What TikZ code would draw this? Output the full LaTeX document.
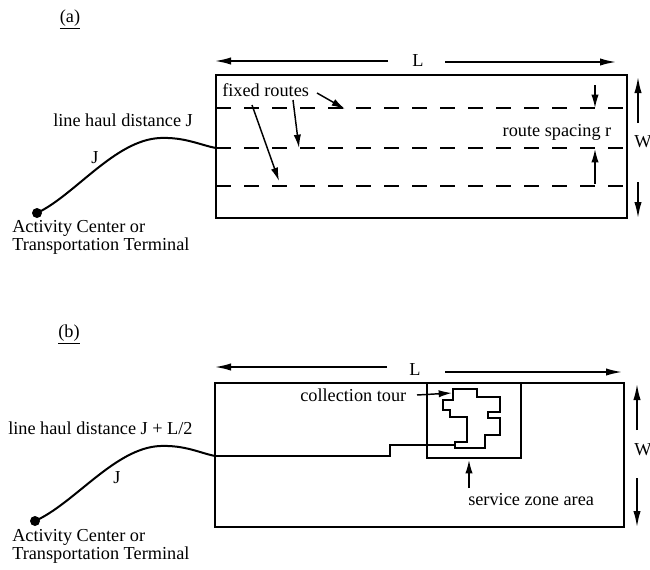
\documentclass[tikz,border=0pt]{standalone}
\usepackage{fontspec}
\setmainfont{Liberation Serif}
\usetikzlibrary{arrows.meta}
\begin{document}
\begin{tikzpicture}[x=0.75pt,y=-0.75pt,
  txt/.style={inner sep=0pt,font=\fontsize{13.7}{13.3}\selectfont},
  arr/.style={line width=1.2pt,-{Latex[length=12pt,width=5.5pt]}},
  sarr/.style={line width=1.1pt,-{Latex[length=10pt,width=5.5pt]}},
  box/.style={line width=1.5pt},
  route/.style={line width=1.5pt,dash pattern=on 11pt off 10pt},
  haul/.style={line width=1.5pt},
  dot/.style={circle,fill,inner sep=0pt,minimum size=7.5pt}]
\useasboundingbox (0,0) rectangle (650,569);

% ---------------- panel (a) ----------------
\node[txt] (labA) at (70,19) {\underline{(a)}};
\draw[box] (216,75) rectangle (627,218);
\draw[route] (216,108) -- (627,108);
\draw[route] (216,148) -- (627,148);
\draw[route] (216,186) -- (627,186);

\node[txt] (aL) at (418,61) {L};
\coordinate (aL1) at (388,61); \coordinate (aL0) at (215,61);
\coordinate (aL2) at (445,62); \coordinate (aL3) at (616,62);
\draw[arr] (aL1) -- (aL0);
\draw[arr] (aL2) -- (aL3);

\node[txt,anchor=west] (aW) at (634,142) {W};
\coordinate (aW1) at (638,123); \coordinate (aW0) at (638,77);
\coordinate (aW2) at (638,182); \coordinate (aW3) at (638,218);
\draw[arr] (aW1) -- (aW0);
\draw[arr] (aW2) -- (aW3);

\node[txt,anchor=west] (aFixed) at (222,90) {fixed routes};
\coordinate (aF1) at (317,93); \coordinate (aF1t) at (345,109);
\coordinate (aF2) at (293,100); \coordinate (aF2t) at (299,148);
\coordinate (aF3) at (252,105); \coordinate (aF3t) at (279,181);
\draw[sarr] (aF1) -- (aF1t);
\draw[sarr] (aF2) -- (aF2t);
\draw[sarr] (aF3) -- (aF3t);

\node[txt] (aR) at (557,132) {route spacing r};
\coordinate (aR1) at (595,85); \coordinate (aR1t) at (595,108);
\coordinate (aR2) at (595,184); \coordinate (aR2t) at (595,149);
\draw[sarr] (aR1) -- (aR1t);
\draw[sarr] (aR2) -- (aR2t);

\node[txt,anchor=west] (aHaul) at (53,120) {line haul distance J};
\node[txt] (aJ) at (95,158) {J};
\node[dot] (aDot) at (37,213) {};
\coordinate (aEnd) at (216,148);
\draw[haul] (aDot.center) .. controls (75,195) and (115,140) .. (160,138)
  .. controls (185,137) and (200,145) .. (aEnd);
\node[txt,anchor=north west,align=left] (aAct) at (12,220)
  {Activity Center or\\Transportation Terminal};

% ---------------- panel (b) ----------------
\node[txt] (labB) at (69,334) {\underline{(b)}};
\draw[box] (215,383) rectangle (624,527);
\draw[box] (427,383) rectangle (521,458);

\node[txt] (bL) at (415,370) {L};
\coordinate (bL1) at (387,367); \coordinate (bL0) at (215,367);
\coordinate (bL2) at (445,372); \coordinate (bL3) at (622,372);
\draw[arr] (bL1) -- (bL0);
\draw[arr] (bL2) -- (bL3);

\node[txt,anchor=west] (bW) at (634,450) {W};
\coordinate (bW1) at (637,430); \coordinate (bW0) at (637,384);
\coordinate (bW2) at (637,478); \coordinate (bW3) at (637,527);
\draw[arr] (bW1) -- (bW0);
\draw[arr] (bW2) -- (bW3);

\node[txt,anchor=west] (bHaul) at (8,428) {line haul distance J + L/2};
\node[txt] (bJ) at (117,478) {J};
\node[dot] (bDot) at (35,521) {};
\coordinate (bEnd) at (215,456);
\draw[haul] (bDot.center) .. controls (75,503) and (115,448) .. (160,446)
  .. controls (185,445) and (200,453) .. (bEnd);
\node[txt,anchor=north west,align=left] (bAct) at (12,529)
  {Activity Center or\\Transportation Terminal};

% line haul inside the region and the collection tour
\coordinate (bTour) at (455,445);
\draw[haul] (bEnd) -- (390,456) -- (390,445) -- (bTour);
\draw[haul] (453,389) -- (477,389) -- (477,397) -- (500,397) -- (500,412)
  -- (488,412) -- (488,418) -- (500,418) -- (500,435) -- (485,435)
  -- (485,448) -- (455,448) -- (455,442) -- (467,442) -- (467,417)
  -- (450,417) -- (450,410) -- (443,410) -- (443,400) -- (453,400) -- cycle;

\node[txt,anchor=west] (bColl) at (300,395) {collection tour};
\coordinate (bC1) at (417,395); \coordinate (bC1t) at (452,393);
\draw[sarr] (bC1) -- (bC1t);

\node[txt,anchor=west] (bServ) at (468,500) {service zone area};
\coordinate (bS1) at (469,488); \coordinate (bS1t) at (469,460);
\draw[sarr] (bS1) -- (bS1t);
\end{tikzpicture}
\end{document}
